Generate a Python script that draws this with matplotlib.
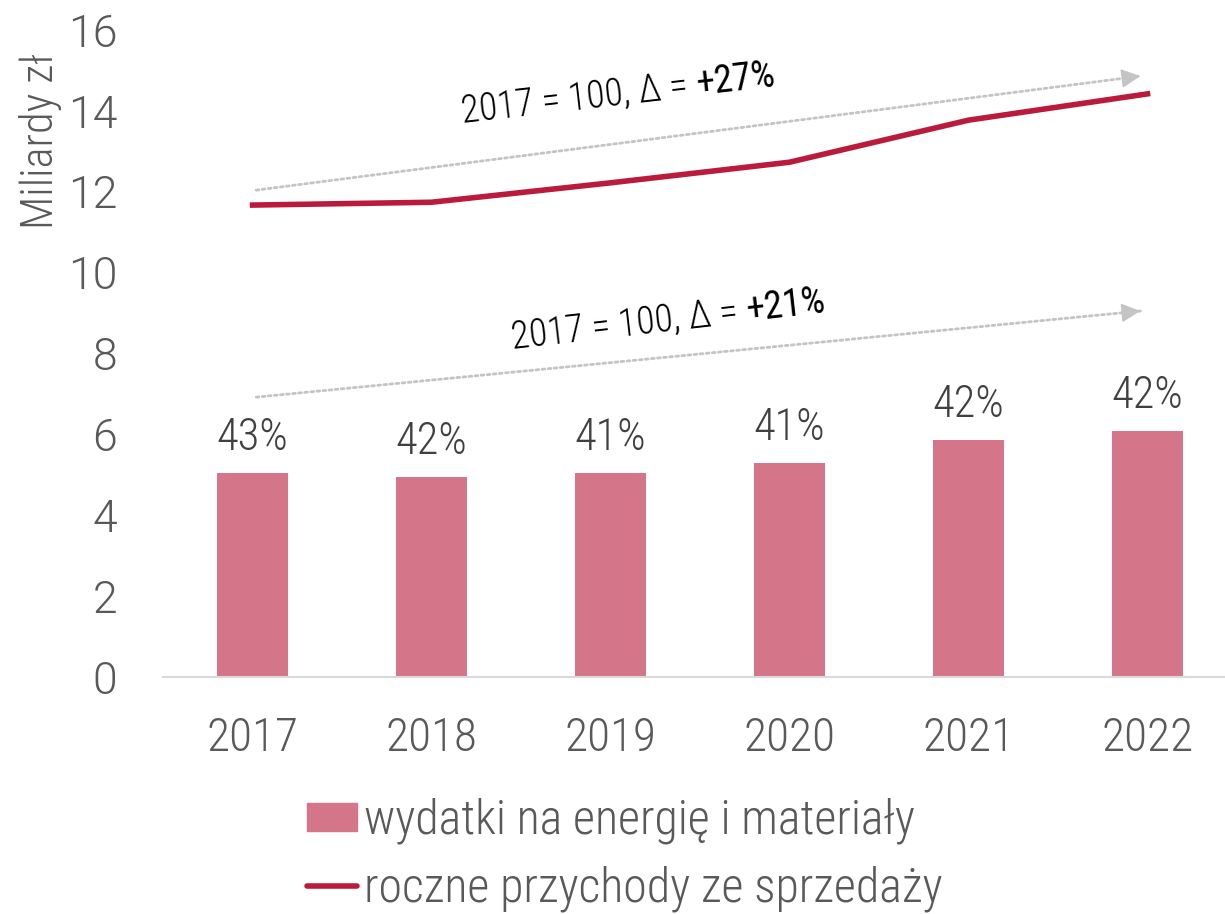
import matplotlib
matplotlib.use('Agg')
import matplotlib.pyplot as plt
from matplotlib.patches import Patch
from matplotlib.lines import Line2D

# data (billions PLN)
years = ['2017', '2018', '2019', '2020', '2021', '2022']
wydatki = [5.04, 4.95, 5.04, 5.29, 5.86, 6.08]          # bars
przychody = [11.67, 11.74, 12.22, 12.73, 13.77, 14.42]  # line
udzial = ['43%', '42%', '41%', '41%', '42%', '42%']     # labels above bars
delta_line = '+27%'
delta_bars = '+21%'

BAR_C = '#D4758A'
LINE_C = '#BA1A3C'
GREY = '#595959'
COND = ['Roboto Condensed', 'Barlow Semi Condensed', 'DejaVu Sans']

fig = plt.figure(figsize=(12.25, 9.14), dpi=100)
ax = fig.add_axes([0.1331, 0.2593, 0.8767, 0.7079])

x = list(range(len(years)))
ax.bar(x, wydatki, width=0.4, color=BAR_C, zorder=2)
ax.plot(x, przychody, color=LINE_C, lw=4, zorder=3)

for xi, v, lab in zip(x, wydatki, udzial):
    ax.annotate(lab, (xi, v), xytext=(0, 10), textcoords='offset points',
                ha='center', va='bottom', fontsize=32, color='#404040',
                family=COND, fontweight=300)

# dotted trend arrows with labels
def trend(x0, y0, x1, y1, tx, ty, delta):
    ax.annotate('', xy=(x1, y1), xytext=(x0, y0),
                arrowprops=dict(arrowstyle='-', color='#C4C4C4', lw=2,
                                linestyle=(0, (1, 1.2)),
                                shrinkA=0, shrinkB=0), zorder=1)
    # solid head on the last bit of the line
    f = 0.02
    ax.annotate('', xy=(x1, y1), xytext=(x1 - f * (x1 - x0), y1 - f * (y1 - y0)),
                arrowprops=dict(arrowstyle='-|>', color='#C4C4C4', lw=1,
                                mutation_scale=30, shrinkA=0, shrinkB=0), zorder=1)
    ax.text(tx, ty, '2017 = 100, Δ = ', ha='right', va='baseline', rotation=6.5,
            rotation_mode='anchor', fontsize=27, color='black',
            family=COND, fontweight=300)
    ax.text(tx, ty, delta, ha='left', va='baseline', rotation=6.5,
            rotation_mode='anchor', fontsize=27, color='black',
            family=COND, fontweight=400)

trend(0.02, 12.04, 4.96, 14.86, 2.486, 14.39, delta_line)
trend(0.02, 6.92, 4.96, 9.05, 2.765, 8.80, delta_bars)

ax.set_xlim(-0.5, 5.5)
ax.set_ylim(0, 16)
ax.set_yticks(range(0, 17, 2))
ax.set_xticks(x)
ax.set_xticklabels(years)
for s in ['top', 'right', 'left']:
    ax.spines[s].set_visible(False)
ax.spines['bottom'].set_color('#D9D9D9')
ax.spines['bottom'].set_linewidth(1.5)
ax.tick_params(axis='both', length=0)
ax.tick_params(axis='x', pad=28, labelsize=34, labelcolor=GREY)
ax.tick_params(axis='y', pad=33, labelsize=32, labelcolor=GREY)
for t in ax.get_xticklabels():
    t.set_family(COND)
    t.set_fontweight(300)
for t in ax.get_yticklabels():
    t.set_family('Roboto')
    t.set_fontweight(300)

fig.text(0.033, 0.846, 'Miliardy zł', rotation=90, ha='center', va='center',
         fontsize=32, color=GREY, family=COND, fontweight=300)

handles = [Patch(color=BAR_C), Line2D([], [], color=LINE_C, lw=4, solid_capstyle='round')]
labels = ['wydatki na energię i materiały', 'roczne przychody ze sprzedaży']
leg = fig.legend(handles, labels, loc='upper left', bbox_to_anchor=(0.2506, 0.127),
                 frameon=False, borderpad=0, borderaxespad=0, handlelength=1.05,
                 handleheight=0.53, handletextpad=0.13, labelspacing=0.45,
                 prop={'family': COND, 'weight': 300, 'size': 34.5})
for t in leg.get_texts():
    t.set_color(GREY)

fig.savefig('out.png')
